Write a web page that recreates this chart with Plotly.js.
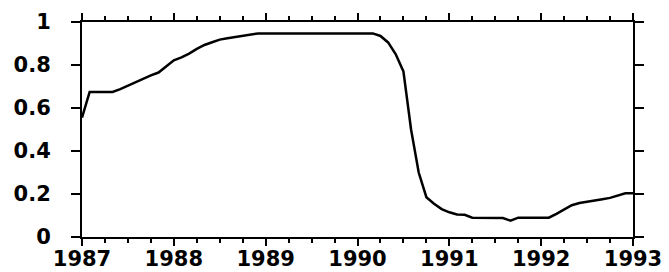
<!DOCTYPE html>
<html>
<head>
<meta charset="utf-8">
<script src="https://cdn.plot.ly/plotly-3.0.1.min.js"></script>
<style>html,body{margin:0;padding:0;background:#fff;}#chart{width:669px;height:272px;}</style>
</head>
<body>
<div id="chart"></div>
<script>
// Monthly values, Jan 1987 .. Jan 1993
var startYear = 1987;
var values = [
  0.555, 0.675, 0.675, 0.675, 0.675, 0.688, 0.705, 0.720, 0.735, 0.752, 0.765, 0.792,
  0.822, 0.835, 0.853, 0.875, 0.893, 0.906, 0.918, 0.924, 0.930, 0.937, 0.942, 0.947,
  0.947, 0.947, 0.947, 0.947, 0.947, 0.947, 0.947, 0.947, 0.947, 0.947, 0.947, 0.947,
  0.947, 0.947, 0.947, 0.935, 0.905, 0.850, 0.770, 0.500, 0.300, 0.185, 0.155, 0.130,
  0.115, 0.105, 0.103, 0.090, 0.090, 0.090, 0.090, 0.088, 0.076, 0.090, 0.090, 0.090,
  0.090, 0.090, 0.108, 0.130, 0.148, 0.158, 0.163, 0.170, 0.176, 0.182, 0.192, 0.203,
  0.203
];
var yearTicks = [1987, 1988, 1989, 1990, 1991, 1992, 1993];
var yTicks = [0, 0.2, 0.4, 0.6, 0.8, 1];
var yTickText = ['0', '0.2', '0.4', '0.6', '0.8', '1'];

var months = values.map(function (v, i) { return startYear + i / 12; });

var tickFont = {family: 'DejaVu Sans', size: 21, color: '#000', weight: 'bold'};
function bold(s) { return '<b>' + s + '</b>'; }

Plotly.newPlot('chart', [{
  x: months,
  y: values,
  type: 'scatter',
  mode: 'lines',
  line: {color: '#000', width: 2.5},
  hoverinfo: 'skip'
}], {
  width: 669,
  height: 272,
  margin: {l: 82, r: 36, t: 22, b: 35, pad: 0},
  paper_bgcolor: '#fff',
  plot_bgcolor: '#fff',
  showlegend: false,
  xaxis: {
    range: [1987, 1993],
    tickvals: yearTicks,
    ticktext: yearTicks.map(function (y) { return bold(String(y)); }),
    ticks: 'outside',
    ticklen: 7,
    tickwidth: 2,
    tickcolor: '#000',
    showline: true,
    linecolor: '#000',
    linewidth: 2,
    mirror: 'ticks',
    showgrid: false,
    zeroline: false,
    tickfont: tickFont,
    ticklabelstandoff: -5,
    minor: {dtick: 0.25, tick0: 1987, ticks: 'outside', ticklen: 4, tickwidth: 2, tickcolor: '#000', showgrid: false}
  },
  yaxis: {
    range: [0, 1],
    tickvals: yTicks,
    ticktext: yTickText.map(bold),
    ticks: 'outside',
    ticklen: 9,
    tickwidth: 2,
    tickcolor: '#000',
    showline: true,
    linecolor: '#000',
    linewidth: 2,
    mirror: 'ticks',
    showgrid: false,
    zeroline: false,
    tickfont: tickFont,
    ticklabelstandoff: 16
  }
}, {displayModeBar: false, staticPlot: true});
</script>
</body>
</html>
